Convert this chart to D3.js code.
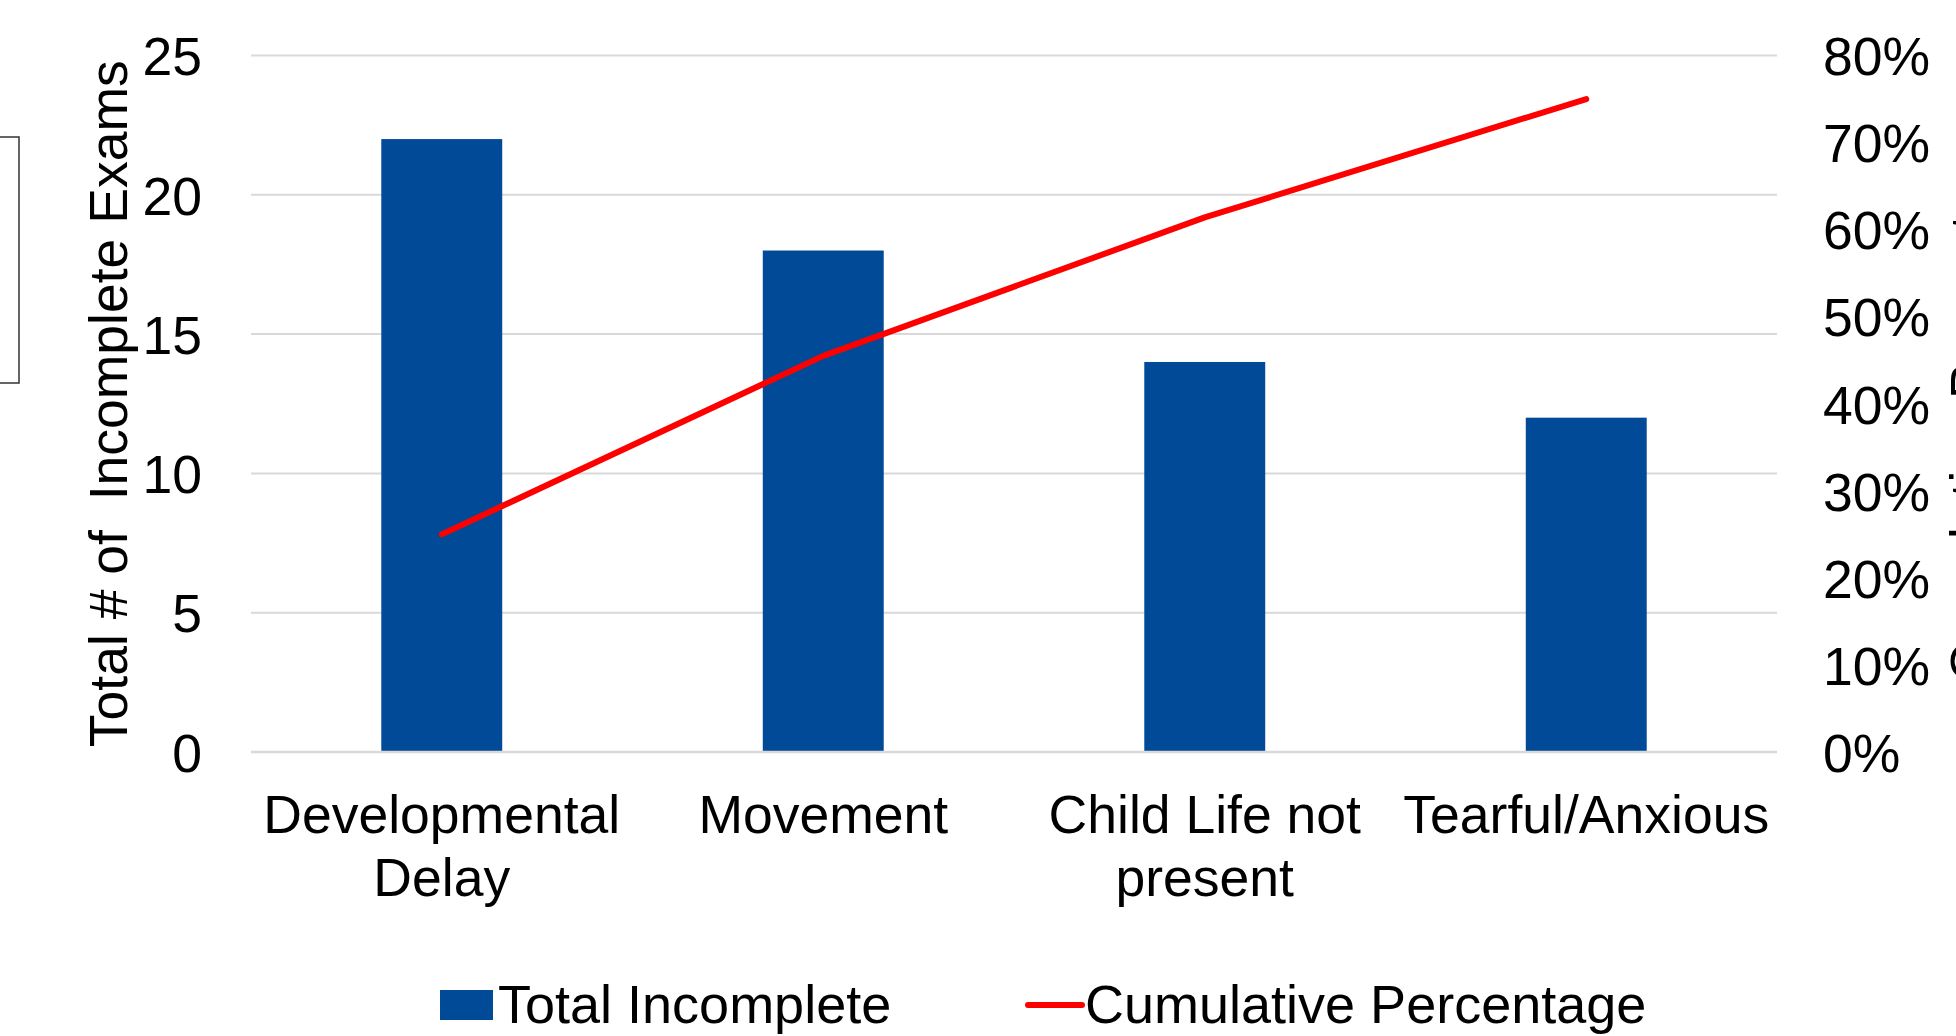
<!DOCTYPE html>
<html lang="en">
<head>
  <meta charset="UTF-8">
  <title>Incomplete Exams</title>
  <script src="https://cdn.jsdelivr.net/npm/d3@7"></script>
  <style>
    html, body { margin: 0; padding: 0; background: #fff; overflow: hidden; }
    text { font-family: "Liberation Sans", Arial, sans-serif; fill: #000; }
  </style>
</head>
<body>
<div id="grafica"></div>

<script>
// data
categories = ['Developmental Delay', 'Movement', 'Child Life not present', 'Tearful/Anxious']
catLines   = [['Developmental', 'Delay'], ['Movement'], ['Child Life not', 'present'], ['Tearful/Anxious']]
totals     = [22, 18, 14, 12]
cumulative = [0.25, 0.455, 0.614, 0.75]
leftTicks  = [0, 5, 10, 15, 20, 25]
rightTicks = [0, 0.1, 0.2, 0.3, 0.4, 0.5, 0.6, 0.7, 0.8]
seriesNames = ['Total Incomplete', 'Cumulative Percentage']

ancho_total = 1956
alto_total  = 1036
margin = { left: 251, right: 179, top: 55.5, bottom: 284 }

ancho = ancho_total - margin.left - margin.right
alto  = alto_total - margin.top - margin.bottom

fontSize = 53.5
legendSize = 54

svg = d3.select('#grafica')
  .append('svg')
  .attr('width', ancho_total)
  .attr('height', alto_total)

g = svg.append('g')
  .attr('transform', `translate(${margin.left},${margin.top})`)

x = d3.scaleBand()
  .domain(categories)
  .range([0, ancho])
  .padding(0)

y = d3.scaleLinear().domain([0, 25]).range([alto, 0])
y2 = d3.scaleLinear().domain([0, 0.8]).range([alto, 0])

barW = x.bandwidth() * 0.317

// gridlines
g.selectAll('.grid')
  .data(leftTicks)
  .enter().append('line')
  .attr('x1', 0).attr('x2', ancho)
  .attr('y1', d => y(d)).attr('y2', d => y(d))
  .attr('stroke', '#d9d9d9')
  .attr('stroke-width', 2)

// left axis
yAxis = g.append('g')
  .call(d3.axisLeft(y).tickValues(leftTicks).tickSize(0).tickPadding(49))
yAxis.select('.domain').remove()
yAxis.selectAll('text')
  .attr('font-size', fontSize)
  .attr('font-family', '"Liberation Sans", Arial, sans-serif')
  .attr('fill', '#000')
  .attr('dy', '0.36em')

// right axis
y2Axis = g.append('g')
  .attr('transform', `translate(${ancho},0)`)
  .call(d3.axisRight(y2).tickValues(rightTicks).tickSize(0).tickPadding(46).tickFormat(d3.format('.0%')))
y2Axis.select('.domain').remove()
y2Axis.selectAll('text')
  .attr('font-size', fontSize)
  .attr('font-family', '"Liberation Sans", Arial, sans-serif')
  .attr('fill', '#000')
  .attr('dy', '0.36em')

// bars
g.selectAll('.bar')
  .data(totals)
  .enter().append('rect')
  .attr('x', (d, i) => x(categories[i]) + x.bandwidth() / 2 - barW / 2)
  .attr('y', d => y(d))
  .attr('width', barW)
  .attr('height', d => alto - y(d))
  .attr('fill', '#004A97')

// baseline
g.append('line')
  .attr('x1', 0).attr('x2', ancho)
  .attr('y1', alto).attr('y2', alto)
  .attr('stroke', '#d9d9d9')
  .attr('stroke-width', 2.5)

// cumulative line
linea = d3.line()
  .x((d, i) => x(categories[i]) + x.bandwidth() / 2)
  .y(d => y2(d))

g.append('path')
  .attr('fill', 'none')
  .attr('stroke', '#ff0000')
  .attr('stroke-width', 6)
  .attr('stroke-linecap', 'round')
  .attr('stroke-linejoin', 'round')
  .attr('d', linea(cumulative))

// category labels
catG = g.selectAll('.cat')
  .data(catLines)
  .enter().append('text')
  .attr('text-anchor', 'middle')
  .attr('font-size', fontSize)
  .attr('transform', (d, i) => `translate(${x(categories[i]) + x.bandwidth() / 2},${alto + 81})`)
catG.selectAll('tspan')
  .data(d => d)
  .enter().append('tspan')
  .attr('x', 0)
  .attr('y', (d, i) => i * 63)
  .text(d => d)

// axis titles
svg.append('text')
  .attr('transform', `translate(127,${margin.top + alto / 2}) rotate(-90)`)
  .attr('text-anchor', 'middle')
  .attr('font-size', fontSize)
  .style('white-space', 'pre')
  .text('Total # of  Incomplete Exams')

// right title runs off the right edge, as in the original
svg.append('text')
  .attr('transform', `translate(1988,${margin.top + alto / 2}) rotate(-90)`)
  .attr('text-anchor', 'middle')
  .attr('font-size', fontSize)
  .text(seriesNames[1])

// stray box at left edge
svg.append('rect')
  .attr('x', -10).attr('y', 137)
  .attr('width', 29).attr('height', 246)
  .attr('fill', 'none')
  .attr('stroke', '#333')
  .attr('stroke-width', 1.5)

// legend
leg = svg.append('g')
leg.append('rect')
  .attr('x', 440).attr('y', 990)
  .attr('width', 53).attr('height', 30)
  .attr('fill', '#004A97')
leg.append('text')
  .attr('x', 498).attr('y', 1023)
  .attr('font-size', legendSize)
  .text(seriesNames[0])
leg.append('line')
  .attr('x1', 1028).attr('x2', 1082)
  .attr('y1', 1005).attr('y2', 1005)
  .attr('stroke', '#ff0000')
  .attr('stroke-width', 6)
  .attr('stroke-linecap', 'round')
leg.append('text')
  .attr('x', 1085).attr('y', 1023)
  .attr('font-size', legendSize)
  .text(seriesNames[1])
</script>
</body>
</html>
